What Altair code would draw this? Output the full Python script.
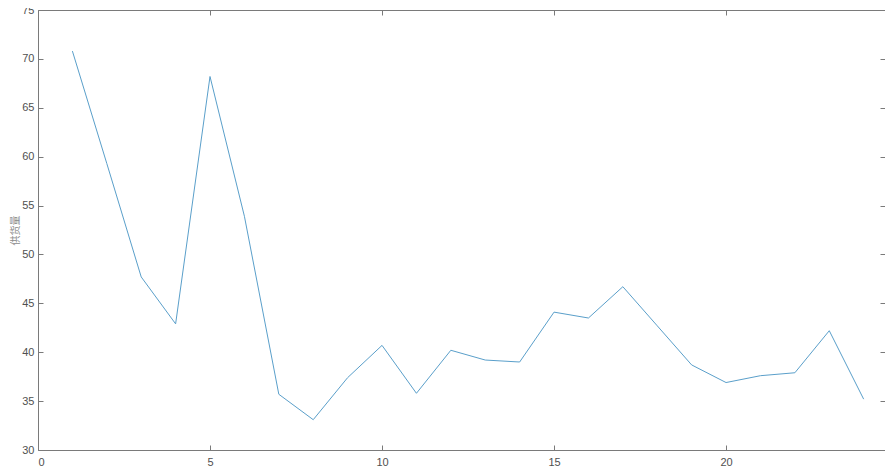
import altair as alt
import pandas as pd

x_vals = list(range(1, 25))
y_vals = [70.8, 59.3, 47.7, 42.9, 68.2, 53.9, 35.7, 33.1, 37.4, 40.7,
          35.8, 40.2, 39.2, 39.0, 44.1, 43.5, 46.7, 42.7, 38.7, 36.9,
          37.6, 37.9, 42.2, 35.2]
x_ticks = [0, 5, 10, 15, 20]
y_ticks = [30, 35, 40, 45, 50, 55, 60, 65, 70, 75]
y_title = "供货量"

df = pd.DataFrame({"x": x_vals, "y": y_vals})

AX = "#7a7a7a"
tick_style = dict(
    labelFont="Liberation Sans", labelFontSize=11, labelColor="#505050",
    tickColor=AX, tickWidth=1, tickSize=5, domain=False, grid=False,
    offset=-5,
)
domain_style = dict(
    domain=True, domainColor=AX, domainWidth=1, ticks=False, labels=False,
    grid=False, title=None,
)

xs = alt.Scale(domain=[0, 24.62], nice=False)
ys = alt.Scale(domain=[30, 75], nice=False)

line = alt.Chart(df).mark_line(color="#5a9fca", strokeWidth=1).encode(
    x=alt.X("x:Q", scale=xs,
            axis=alt.Axis(values=x_ticks, labelPadding=6, title=None,
                          **tick_style)),
    y=alt.Y("y:Q", scale=ys,
            axis=alt.Axis(values=y_ticks, labelPadding=4, title=y_title,
                          titleFont="Noto Sans CJK SC", titleFontSize=10,
                          titleFontWeight="normal", titleColor="#8a8a8a",
                          titleAngle=270, titleBaseline="middle",
                          titleX=-28, titleY=220,
                          **tick_style)),
)

ticks_other = alt.Chart(df).mark_line(opacity=0).encode(
    x=alt.X("x:Q", scale=xs,
            axis=alt.Axis(orient="top", values=x_ticks, labels=False,
                          title=None, **tick_style)),
    y=alt.Y("y:Q", scale=ys,
            axis=alt.Axis(orient="right", values=y_ticks, labels=False,
                          title=None, **tick_style)),
)

frame_a = alt.Chart(df).mark_line(opacity=0).encode(
    x=alt.X("x:Q", scale=xs, axis=alt.Axis(orient="bottom", **domain_style)),
    y=alt.Y("y:Q", scale=ys, axis=alt.Axis(orient="left", **domain_style)),
)

frame_b = alt.Chart(df).mark_line(opacity=0).encode(
    x=alt.X("x:Q", scale=xs, axis=alt.Axis(orient="top", **domain_style)),
    y=alt.Y("y:Q", scale=ys, axis=None),
)

chart = alt.layer(frame_a, frame_b, ticks_other, line).resolve_axis(
    x="independent", y="independent"
).properties(
    width=847, height=440,
    autosize=alt.AutoSizeParams(type="none"),
    padding={"left": 30, "top": 2, "right": 0, "bottom": 18},
).configure_view(stroke=None).configure(background="white")

chart.save("out.html", embed_options={"renderer": "svg", "actions": False})
